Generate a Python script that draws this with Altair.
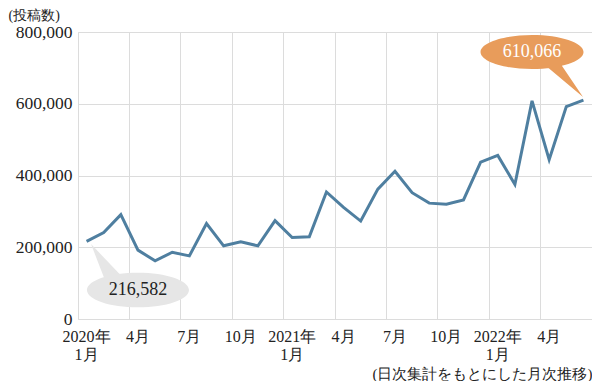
import altair as alt
import pandas as pd

# ---- data ----
months = [
    "2020-01", "2020-02", "2020-03", "2020-04", "2020-05", "2020-06",
    "2020-07", "2020-08", "2020-09", "2020-10", "2020-11", "2020-12",
    "2021-01", "2021-02", "2021-03", "2021-04", "2021-05", "2021-06",
    "2021-07", "2021-08", "2021-09", "2021-10", "2021-11", "2021-12",
    "2022-01", "2022-02", "2022-03", "2022-04", "2022-05", "2022-06",
]
posts = [
    216582, 241000, 291000, 192000, 162000, 186000,
    176000, 266000, 204000, 215000, 204000, 274000,
    227000, 229000, 354000, 311000, 273000, 362000,
    412000, 352000, 323000, 320000, 332000, 437000,
    456000, 375000, 608000, 444000, 592000, 610066,
]
tick_months = ["2020-01", "2020-04", "2020-07", "2020-10", "2021-01",
               "2021-04", "2021-07", "2021-10", "2022-01", "2022-04"]
tick_labels = [["2020年", "1月"], ["4月"], ["7月"], ["10月"], ["2021年", "1月"],
               ["4月"], ["7月"], ["10月"], ["2022年", "1月"], ["4月"]]
y_ticks = [0, 200000, 400000, 600000, 800000]
y_title = "(投稿数)"
x_caption = "(日次集計をもとにした月次推移)"

first_label = f"{posts[0]:,}"
last_label = f"{posts[-1]:,}"

# ---- styles ----
SERIF = "Liberation Serif"
TXT = "#222222"
GRID = "#dcdcdc"
LINE = "#4f7fa0"
ORANGE = "#e89c5b"
GRAYBUB = "#e6e6e6"

df = pd.DataFrame({"month": months, "posts": posts})

label_map = "{" + ",".join(
    "'" + m + "':[" + ",".join("'" + s + "'" for s in lab) + "]"
    for m, lab in zip(tick_months, tick_labels)
) + "}"

x_scale = alt.Scale(type="band", domain=months, paddingInner=0, paddingOuter=0)
y_scale = alt.Scale(domain=[0, 800000], nice=False)

x_axis = alt.Axis(
    values=tick_months, bandPosition=0, labelExpr=label_map + "[datum.value]",
    labelAngle=0, labelAlign="center", labelBaseline="top", labelPadding=9,
    labelLineHeight=18, labelFont=SERIF, labelFontSize=16, labelColor=TXT,
    ticks=False, domain=False, grid=True, gridColor=GRID, gridWidth=1,
    title=x_caption, titleAnchor="end", titleAlign="right", titleX=514, titleY=62,
    titleBaseline="bottom", titleFont=SERIF, titleFontSize=15,
    titleFontWeight="normal", titleColor=TXT, labelOverlap=False,
)
y_axis = alt.Axis(
    values=y_ticks, format=",d", labelFont=SERIF, labelFontSize=17.5, labelColor=TXT,
    labelPadding=6, ticks=False, domain=False, gridColor=GRID, gridWidth=1,
    title=y_title, titleAngle=0, titleAlign="left", titleBaseline="top",
    titleX=-70, titleY=-24, titleFont=SERIF, titleFontSize=14,
    titleFontWeight="normal", titleColor=TXT,
)

base = alt.Chart(df)
line = base.mark_line(color=LINE, strokeWidth=3, strokeJoin="miter").encode(
    x=alt.X("month:O", scale=x_scale, axis=x_axis, bandPosition=0.5),
    y=alt.Y("posts:Q", scale=y_scale, axis=y_axis),
)

gray_shape = ("M-1,0C-1,-0.188 -0.552,-0.34 0,-0.34C0.552,-0.34 1,-0.188 1,0"
              "C1,0.188 0.552,0.34 0,0.34C-0.552,0.34 -1,0.188 -1,0Z"
              "M-0.65,-0.2L-0.92,-0.9L-0.3,-0.25Z")
orange_shape = ("M-1,0C-1,-0.182 -0.552,-0.33 0,-0.33C0.552,-0.33 1,-0.182 1,0"
                "C1,0.182 0.552,0.33 0,0.33C-0.552,0.33 -1,0.182 -1,0Z"
                "M0.25,0.25L0.55,0.22L0.99,0.87Z")

first_df = pd.DataFrame({"month": ["2020-04"], "posts": [80800], "label": [first_label]})
last_df = pd.DataFrame({"month": ["2022-03"], "posts": [744000], "label": [last_label]})

def bubble(d, shape, size, fill, tcolor):
    enc = dict(
        x=alt.X("month:O", scale=x_scale, bandPosition=0.5),
        y=alt.Y("posts:Q", scale=y_scale),
    )
    b = alt.Chart(d).mark_point(shape=shape, size=size, filled=True, fill=fill,
                                opacity=1, strokeWidth=0).encode(**enc)
    t = alt.Chart(d).mark_text(font=SERIF, fontSize=18, color=tcolor,
                               baseline="middle", align="center").encode(
        text="label:N", **enc)
    return b + t

chart = alt.layer(
    line,
    bubble(first_df, gray_shape, 10404, GRAYBUB, TXT),
    bubble(last_df, orange_shape, 10609, ORANGE, "#ffffff"),
).properties(
    width=514, height=287,
    autosize=alt.AutoSizeParams(type="none"),
    padding={"left": 70, "top": 24, "right": 0, "bottom": 62},
    background="white",
).configure_view(stroke=GRID, strokeWidth=1)

chart.save("out.html", embed_options={"renderer": "svg", "actions": False})
